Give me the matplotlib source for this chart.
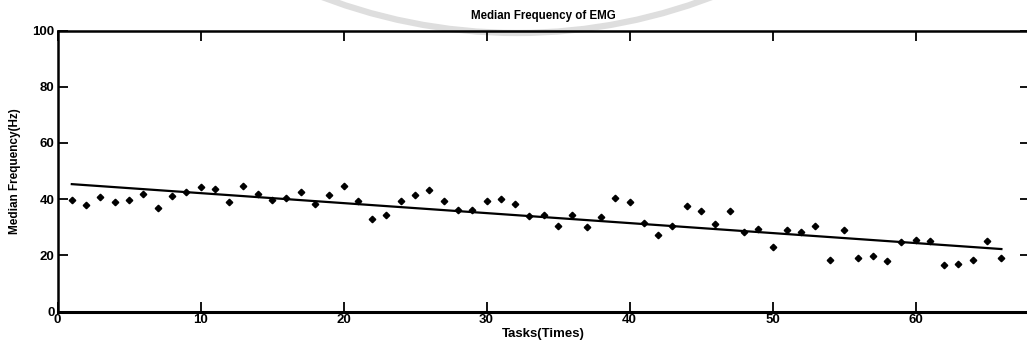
import numpy as np
import matplotlib
matplotlib.use("Agg")
import matplotlib.pyplot as plt
from matplotlib.patches import Arc

# Median frequency of the EMG signal for each task repetition
tasks = list(range(1, 67))
median_freq = [
    39.8, 38.0, 40.6, 39.1, 39.8, 41.8, 36.8, 41.2, 42.5, 44.3,
    43.5, 39.0, 44.8, 41.8, 39.7, 40.3, 42.6, 38.2, 41.4, 44.5,
    39.4, 33.0, 34.3, 39.5, 41.3, 43.2, 39.4, 36.2, 36.2, 39.3,
    39.9, 38.1, 34.0, 34.3, 30.6, 34.4, 30.0, 33.8, 40.3, 39.1,
    31.4, 27.1, 30.3, 37.5, 35.6, 31.2, 35.9, 28.4, 29.5, 22.8,
    29.0, 28.4, 30.5, 18.3, 28.9, 19.1, 19.7, 17.9, 24.8, 25.4,
    25.1, 16.7, 17.0, 18.2, 25.2, 19.2,
]
x_ticks = [0, 10, 20, 30, 40, 50, 60]
y_ticks = [0, 20, 40, 60, 80, 100]

W, H, DPI = 1027, 351, 100
fig = plt.figure(figsize=(W / DPI, H / DPI), dpi=DPI)
fig.patch.set_facecolor("white")

# faint ring printed behind the title
ring = Arc((517 / W, 1 + 513 / H), width=2 * 546 / W, height=2 * 546 / H,
           theta1=180, theta2=360, transform=fig.transFigure,
           color="#dedede", lw=4.5, zorder=0)
fig.add_artist(ring)

ax = fig.add_axes([57.5 / W, 39.5 / H, (1030 - 57.5) / W, (311.5 - 30.5) / H])
ax.patch.set_alpha(0)

narrow = ["Liberation Sans Narrow", "Liberation Sans", "DejaVu Sans"]
regular = ["Liberation Sans", "DejaVu Sans"]

x = np.array(tasks, dtype=float)
y = np.array(median_freq)
ax.plot(x, y, linestyle="none", marker="D", markersize=3.3,
        color="black", zorder=3)

# least-squares trend line over the task range
slope, intercept = np.polyfit(x, y, 1)
ax.plot([x[0], x[-1]], [intercept + slope * x[0], intercept + slope * x[-1]],
        color="black", lw=1.6, zorder=2)

ax.set_xlim(0, 68)
ax.set_ylim(0, 100)
ax.set_xticks(x_ticks)
ax.set_yticks(y_ticks)
ax.set_xticklabels([str(t) for t in x_ticks], fontfamily=narrow,
                   fontweight="bold", fontsize=9.5)
ax.set_yticklabels([str(t) for t in y_ticks], fontfamily=narrow,
                   fontweight="bold", fontsize=9.5)
ax.tick_params(direction="in", length=7, width=1.3, top=True, right=True,
               pad=2, colors="black")
for s in ax.spines.values():
    s.set_linewidth(1.8)
ax.spines["bottom"].set_linewidth(2.2)

ax.set_title("Median Frequency of EMG", fontfamily=regular,
             fontweight="bold", fontsize=8.3, pad=8)
ax.set_xlabel("Tasks(Times)", fontfamily=narrow, fontweight="bold",
              fontsize=9.5, labelpad=1)
ax.set_ylabel("Median Frequency(Hz)", fontfamily=regular, fontweight="bold",
              fontsize=8.5, labelpad=8)

fig.savefig("out.png", dpi=DPI)
